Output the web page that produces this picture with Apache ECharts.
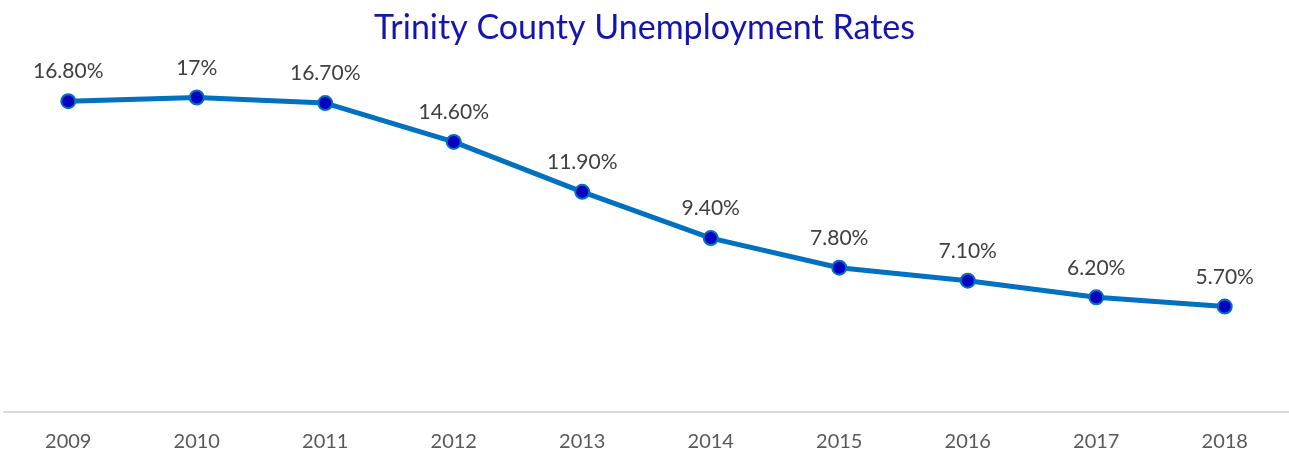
<!DOCTYPE html>
<html><head><meta charset="utf-8">
<script src="https://cdn.jsdelivr.net/npm/echarts@6/dist/echarts.min.js"></script>
<style>html,body{margin:0;padding:0;background:#fff}#c{width:1289px;height:456px}</style>
</head><body><div id="c"></div>
<script>
const categories = ['2009','2010','2011','2012','2013','2014','2015','2016','2017','2018'];
const rates = [16.8, 17, 16.7, 14.6, 11.9, 9.4, 7.8, 7.1, 6.2, 5.7];
const rateLabels = ['16.80%','17%','16.70%','14.60%','11.90%','9.40%','7.80%','7.10%','6.20%','5.70%'];

const chart = echarts.init(document.getElementById('c'), null, {renderer:'canvas'});
chart.setOption({
  backgroundColor:'#fff',
  animation:false,
  title:{
    text:'Trinity County Unemployment Rates',
    left:'center', top:6,
    textStyle:{color:'#1414B4', fontSize:34, fontWeight:'normal', fontFamily:'Lato'}
  },
  grid:{left:4, right:0, top:42, bottom:44, containLabel:false},
  xAxis:{
    type:'category', data:categories, boundaryGap:true,
    axisLine:{lineStyle:{color:'#d9d9d9', width:2}},
    axisTick:{show:false},
    axisLabel:{color:'#595959', fontSize:20, fontFamily:'Lato', margin:20}
  },
  yAxis:{type:'value', min:0, max:20, show:false, splitLine:{show:false}},
  series:[{
    type:'line', data:rates,
    lineStyle:{color:'#0070C0', width:5},
    symbol:'circle', symbolSize:14,
    itemStyle:{color:'#0000C0', borderColor:'#0070C0', borderWidth:2},
    label:{show:true, position:'top', distance:11, color:'#404040', fontSize:21, fontFamily:'Lato',
      formatter:p=>rateLabels[p.dataIndex]}
  }]
});
</script></body></html>
